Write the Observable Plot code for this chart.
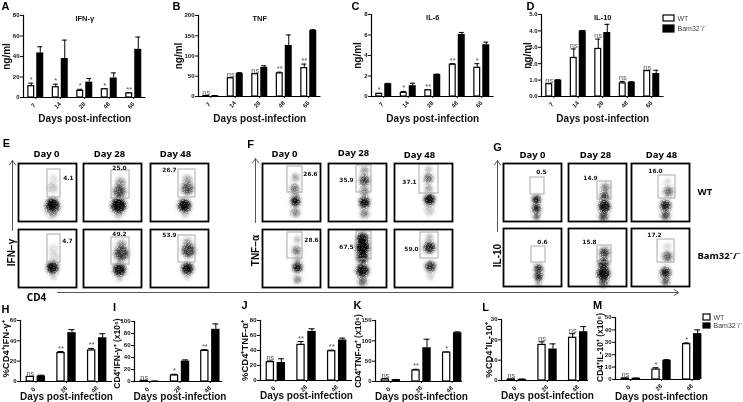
<!DOCTYPE html>
<html><head><meta charset="utf-8">
<script src="https://cdn.jsdelivr.net/npm/d3@7"></script>
<script src="https://cdn.jsdelivr.net/npm/@observablehq/plot@0.6"></script>
<style>
html,body{margin:0;padding:0;background:#fff}
#fig{position:relative;width:743px;height:402px;overflow:hidden;filter:blur(.3px)}
#fig svg{position:absolute;background:transparent;max-width:none;overflow:visible}
</style></head>
<body>
<svg width="0" height="0" style="position:absolute"><defs>
<filter id="speckle" x="-60%" y="-60%" width="220%" height="220%" color-interpolation-filters="sRGB">
<feGaussianBlur in="SourceGraphic" stdDeviation="2" result="soft"/>
<feTurbulence type="fractalNoise" baseFrequency="1.1" numOctaves="2" seed="4" result="noise"/>
<feColorMatrix in="noise" type="matrix" values="0 0 0 0 0 0 0 0 0 0 0 0 0 0 0 0 0 0 4 -1.1" result="mask"/>
<feComposite in="soft" in2="mask" operator="in"/>
</filter></defs></svg>
<div id="fig"></div>
<script>
const groupsLong = [7, 14, 28, 48, 66];
const groupsShort = [0, 28, 48];

// --- Top row (ng/ml) ---
const ifnWT = [11, 10, 6.5, 8, 4],        ifnWThi = [14, 13, 8, 8.6, 4.6];
const ifnKO = [43.5, 38, 15, 19, 47],     ifnKOhi = [49.5, 56, 18.5, 24, 59];
const ifnSig = ["*", "*", "*", "*", "**"];
const tnfWT = [1, 45, 55, 57, 70],        tnfWThi = [1.5, 46.5, 56, 60, 80];
const tnfKO = [2, 57, 72, 126, 163],      tnfKOhi = [2.5, 59, 76, 152, 165];
const tnfSig = ["ns", "ns", "ns", "**", "**"];
const il6WT = [0.26, 0.36, 0.6, 3.1, 2.8],  il6WThi = [0.3, 0.5, 0.65, 3.2, 3.2];
const il6KO = [1.24, 1.05, 2.15, 6.05, 5.05], il6KOhi = [1.28, 1.3, 2.18, 6.25, 5.3];
const il6Sig = ["*", "*", "**", "**", "*"];
const il10WT = [0.75, 2.35, 2.9, 0.8, 1.55], il10WThi = [0.76, 2.9, 3.5, 0.92, 1.58];
const il10KO = [1.0, 4.0, 3.9, 0.87, 1.4],   il10KOhi = [1.02, 4.02, 4.4, 0.9, 1.6];
const il10Sig = ["ns", "ns", "ns", "ns", "ns"];

// --- Bottom row ---
const pIfnWT = [4.5, 28, 30.5],  pIfnWThi = [4.9, 29.5, 32.5];
const pIfnKO = [5.5, 48, 43],    pIfnKOhi = [6.2, 51, 47];
const nIfnWT = [1, 10, 51],      nIfnWThi = [1.2, 12, 53];
const nIfnKO = [0.5, 34, 87],    nIfnKOhi = [0.7, 36, 96];
const pTnfWT = [24.5, 47.5, 39], pTnfWThi = [26, 52, 40.5];
const pTnfKO = [24, 65.5, 54],   pTnfKOhi = [29, 69, 56.5];
const nTnfWT = [5, 27, 71],      nTnfWThi = [7, 30, 72.5];
const nTnfKO = [4.5, 83, 120],   nTnfKOhi = [5, 104, 122];
const pIlWT = [0.5, 17.5, 21],   pIlWThi = [0.6, 19, 23];
const pIlKO = [0.6, 15.5, 24],   pIlKOhi = [0.7, 18, 26.5];
const nIlWT = [0.8, 8, 28.5],    nIlWThi = [1, 9.5, 29.5];
const nIlKO = [1, 15.5, 37],     nIlKOhi = [1.2, 16, 40];

// --- Flow cytometry: gates [panel, x1, x2, y1, y2], in the frame's own 58-unit scale ---
const flowPanels = [
  ["E00",18,163],["E01",83,163],["E02",150,163],["E10",18,229],["E11",83,229],["E12",150,229],
  ["F00",262,163],["F01",328,163],["F02",394,163],["F10",262,229],["F11",328,229],["F12",394,229],
  ["G00",503,163],["G01",568,163],["G02",631,163],["G10",503,228],["G11",568,228],["G12",631,228]
];
const flowGates = {
  E00:[29,42,6,34],E01:[28,46,7,35],E02:[28,45,6,34],E10:[29,42,5,33],E11:[28,46,8,35],E12:[28,45,6,33],
  F00:[25,40,3,29],F01:[28,43,2,29],F02:[25,44,1,30],F10:[25,40,3,29],F11:[28,43,2,30],F12:[26,44,3,29],
  G00:[27,41,14,31],G01:[29,43,18,36],G02:[27,44,12,35],G10:[28,42,18,34],G11:[29,43,17,34],G12:[26,43,11,34]
};
const flowLabels = {
  E00:["4.1",50,15],E01:["25.0",36,5],E02:["26.7",19,7],E10:["4.7",49,12],E11:["49.2",36,5],E12:["53.9",19,6],
  F00:["26.6",48,11],F01:["35.9",18,17],F02:["37.1",15,19],F10:["28.6",49,11],F11:["67.5",18,18],F12:["59.0",17,20],
  G00:["0.5",38,9],G01:["14.9",22,15],G02:["16.0",24,8],G10:["0.6",39,14],G11:["15.8",21,14],G12:["17.2",23,7]
};
// clouds: x, y, radius, density
const flowClouds = {
  E00:[[34,41,5.5,.98],[34,44,7,.3],[34,24,5,.14],[35,15,4,.08],[34,51,4,.15]],
  E01:[[35,42,6.5,.98],[36,28,5.5,.55],[37,19,4.5,.3],[35,51,4,.15]],
  E02:[[34,42,5.5,.95],[37,25,5.5,.5],[37,16,4,.25],[35,50,3.5,.15]],
  E10:[[34,38,5,.98],[35,20,5,.08],[36,28,5,.08],[35,47,3,.15]],
  E11:[[36,40,5.5,.9],[38,24,6.5,.6],[38,15,4,.3],[36,49,3,.15]],
  E12:[[37,39,5,.95],[38,21,6,.6],[37,12,3.5,.25],[37,47,3,.15]],
  F00:[[33,38,4,.9],[32,25,4,.4],[33,14,3.5,.25],[33,49,4,.35],[33,31,3,.25]],
  F01:[[36,39,4.5,.95],[36,17,4.5,.6],[36,7,3.5,.3],[36,28,4,.35],[36,50,4,.35]],
  F02:[[35,36,4.5,.98],[34,15,4,.45],[34,6,3,.2],[34,25,3.5,.25],[35,47,4.5,.15]],
  F10:[[35,38,4,.9],[34,21,4,.4],[35,10,3,.2],[35,30,3,.25],[35,50,3.5,.35]],
  F11:[[34,18,6,1],[34,9,5,.9],[34,28,5,.8],[34,41,5.5,.9],[34,52,4,.45]],
  F12:[[35,18,5,.75],[35,8,3,.25],[36,37,4.5,.7],[36,47,3,.15]],
  G00:[[33,36,3.5,.85],[33,45,3.5,.85],[33,53,3,.5]],
  G01:[[36,43,5,.95],[36,33,4,.6],[37,24,4,.35],[35,53,4,.6]],
  G02:[[34,42,4.5,.8],[34,52,4,.55],[37,28,4.5,.4],[36,18,3,.12]],
  G10:[[35,40,3.5,.75],[35,48,3.5,.8],[35,55,2.5,.3]],
  G11:[[35,45,5.5,.98],[35,35,4.5,.75],[36,24,4.5,.6],[35,54,4,.5]],
  G12:[[34,44,4.5,.8],[34,53,3.5,.5],[36,28,4.5,.45],[36,18,3,.12]]
};

// --- Figure annotations (figure-level positions) ---
const panelLetters = [["A",5,6],["B",176,6],["C",355,6],["D",530,6],["E",6,143],["F",250,144],["G",497,147],
  ["H",5,309],["I",114,307],["J",244,305],["K",357,305],["L",485,307],["M",597,305]];
const dayHeaders = [["Day 0",46,153],["Day 28",109,153],["Day 48",175,153],["Day 0",284,153],["Day 28",353,152],["Day 48",419,154],
  ["Day 0",532,154],["Day 28",595,154],["Day 48",661,154]];
const sideLabels = [["WT",697,191],["Bam32\u207B/\u207B",697,255]];
const rotatedLabels = [["IFN\u2212\u03B3",11,252],["TNF\u2212\u03B1",255,250],["IL-10",497,255]];
const cd4Label = [["CD4",36,297]];
const arrows = [[12,230,12,160],[255,222,255,158],[497,231,497,160],[57,292,678,292]];
const legends = [[663,674,15,21,25,32],[703,710,314,320,323,328]];
const legendLabelX = [677, 713];

const font = "'Liberation Sans', Arial, sans-serif";
const figEl = document.getElementById("fig");

function place(svg, left, top){ svg.style.left = left + "px"; svg.style.top = top + "px"; figEl.appendChild(svg); }

function barPanel(c){
  const rows = c.groups.map((g,i)=>({g, wt:c.wt[i], wtHi:c.wtHi[i], ko:c.ko[i], koHi:c.koHi[i], sig:c.sig[i]}));
  const ml = 24, mr = 2, mt = 16, mb = 24;
  const step = (c.right - c.left)/c.groups.length, h = step/2;
  const w = c.barW, gap = c.gap, off = (w+gap)/2, cap = c.cap;
  const capI = h - cap/2;
  const capOpts = (y, dx)=>({x:"g", y, dx, insetLeft:capI, insetRight:capI, stroke:"#000", strokeWidth:1});
  const marks = [
    Plot.ruleX(rows,{x:"g",y1:"wt",y2:"wtHi",dx:-off,stroke:"#000",strokeWidth:1}),
    Plot.ruleX(rows,{x:"g",y1:"ko",y2:"koHi",dx:off,stroke:"#000",strokeWidth:1}),
    Plot.tickY(rows,capOpts("wtHi",-off)),
    Plot.tickY(rows,capOpts("koHi",off)),
    Plot.barY(rows,{x:"g",y:"wt",insetLeft:h-gap/2-w+.6,insetRight:h+gap/2+.6,fill:"#fff",stroke:"#000",strokeWidth:1.2}),
    Plot.barY(rows,{x:"g",y:"ko",insetLeft:h+gap/2,insetRight:h-gap/2-w,fill:"#000"}),
    Plot.ruleY([0],{insetRight:c.inset||0,stroke:"#000",strokeWidth:1}),
    Plot.frame({anchor:"left",stroke:"#000",strokeWidth:1.2}),
    Plot.axisY({ticks:c.yTicks,tickSize:3,tickPadding:1,label:null,fontSize:6,fontWeight:"bold"}),
    Plot.axisX({tickSize:2,label:null,tickFormat:()=>""}),
    Plot.text(rows,{x:"g",frameAnchor:"bottom",text:d=>String(d.g),rotate:-45,dx:-2.5,dy:8,textAnchor:"middle",lineAnchor:"middle",fontSize:6,fontWeight:"bold"}),
    Plot.text(rows,{x:"g",y:"wtHi",text:"sig",dx:-off,dy:-1,lineAnchor:"bottom",fontSize:7.5,fill:"#555"}),
    Plot.text([c.xLabel],{frameAnchor:"bottom",text:d=>d,dx:c.xdx||0,dy:c.xdy,lineAnchor:"middle",fontSize:10,fontWeight:"bold"}),
    Plot.text([c.yLabel],{frameAnchor:"left",text:d=>d,rotate:-90,textAnchor:"middle",dx:c.ydx,dy:c.ydy||0,lineAnchor:"middle",fontSize:c.yFont||10,fontWeight:"bold"})
  ];
  if (c.title) marks.push(Plot.text([c.title],{frameAnchor:"top",text:d=>d,dy:3.5,dx:c.tdx||0,lineAnchor:"middle",fontSize:7.5,fontWeight:"bold"}));
  const svg = Plot.plot({
    width:c.right-c.left+ml+mr, height:c.bottom-c.top+mt+mb,
    marginLeft:ml, marginRight:mr, marginTop:mt, marginBottom:mb,
    style:{fontFamily:font,background:"transparent",color:"#111"},
    x:{type:"band",domain:c.groups,padding:0,round:false,axis:null},
    y:{domain:c.yDomain,axis:null},
    marks
  });
  place(svg, c.left-ml, c.top-mt);
}

const xl = "Days post-infection";
const topCfg = {groups:groupsLong,barW:7,gap:2,cap:5,xLabel:xl,yLabel:"ng/ml",xdy:21};
barPanel({...topCfg,left:23,right:145.5,top:15,bottom:97,yDomain:[0,80],yTicks:[0,20,40,60,80],wt:ifnWT,wtHi:ifnWThi,ko:ifnKO,koHi:ifnKOhi,sig:ifnSig,title:"IFN-\u03B3",ydx:-17,tdx:0});
barPanel({...topCfg,left:198.2,right:320.7,top:15,bottom:96,yDomain:[0,200],yTicks:[0,50,100,150,200],wt:tnfWT,wtHi:tnfWThi,ko:tnfKO,koHi:tnfKOhi,sig:tnfSig,title:"TNF",ydx:-20,xdy:22});
barPanel({...topCfg,left:371,right:493.5,top:14,bottom:96,yDomain:[0,8],yTicks:[0,2,4,6,8],wt:il6WT,wtHi:il6WThi,ko:il6KO,koHi:il6KOhi,sig:il6Sig,title:"IL-6",ydx:-14,xdy:22});
barPanel({...topCfg,left:541,right:663.5,top:14,bottom:96,yDomain:[0,5],yTicks:[0,1,2,3,4,5],wt:il10WT,wtHi:il10WThi,ko:il10KO,koHi:il10KOhi,sig:il10Sig,title:"IL-10",ydx:-14,xdy:22});

const botCfg = {groups:groupsShort,barW:8.4,gap:2.6,cap:6,xLabel:xl,xdy:15,yFont:8.5};
const pctFont = 9.5;
barPanel({...botCfg,yFont:pctFont,left:20,right:112,top:320,bottom:381,yDomain:[0,60],yTicks:[0,20,40,60],wt:pIfnWT,wtHi:pIfnWThi,ko:pIfnKO,koHi:pIfnKOhi,sig:["ns","**","**"],yLabel:"%CD4\u207AIFN-\u03B3\u207A",ydx:-15,ydy:-2});
barPanel({...botCfg,left:134,right:225,top:321,bottom:381,yDomain:[0,100],yTicks:[0,20,40,60,80,100],wt:nIfnWT,wtHi:nIfnWThi,ko:nIfnKO,koHi:nIfnKOhi,sig:["ns","*","**"],yLabel:"CD4\u207AIFN-\u03B3\u207A (x10\u2076)",ydx:-17,ydy:2,inset:3});
barPanel({...botCfg,yFont:pctFont,left:260,right:352,top:320,bottom:380,yDomain:[0,80],yTicks:[0,20,40,60,80],wt:pTnfWT,wtHi:pTnfWThi,ko:pTnfKO,koHi:pTnfKOhi,sig:["ns","**","**"],yLabel:"%CD4\u207ATNF-\u03B1\u207A",ydx:-16,ydy:0});
barPanel({...botCfg,left:375,right:467,top:320,bottom:381,yDomain:[0,150],yTicks:[0,50,100,150],wt:nTnfWT,wtHi:nTnfWThi,ko:nTnfKO,koHi:nTnfKOhi,sig:["ns","**","*"],yLabel:"CD4\u207ATNF-\u03B1\u207A (x10\u2076)",ydx:-17,ydy:0,inset:5});
barPanel({...botCfg,yFont:pctFont,left:501,right:593,top:319,bottom:380,yDomain:[0,30],yTicks:[0,10,20,30],wt:pIlWT,wtHi:pIlWThi,ko:pIlKO,koHi:pIlKOhi,sig:["ns","ns","ns"],yLabel:"%CD4\u207AIL-10\u207A",ydx:-13,ydy:0,inset:5});
barPanel({...botCfg,left:615,right:707,top:317,bottom:379,yDomain:[0,50],yTicks:[0,10,20,30,40,50],wt:nIlWT,wtHi:nIlWThi,ko:nIlKO,koHi:nIlKOhi,sig:["ns","*","*"],yLabel:"CD4\u207AIL-10\u207A (x10\u2076)",ydx:-15,ydy:-1,inset:7,xdy:17});

// Flow plots
for (const [key,x0,y0] of flowPanels){
  const [gx1,gx2,gy1,gy2] = flowGates[key];
  const [lab,lx,ly] = flowLabels[key];
  const clouds = flowClouds[key].map(([x,y,r,o])=>({x,y,r,o}));
  const svg = Plot.plot({
    width:60,height:60,margin:1,
    style:{fontFamily:"'DejaVu Sans',sans-serif",background:"transparent"},
    x:{domain:[0,58],axis:null},
    y:{domain:[0,58],reverse:true,axis:null},
    r:{type:"identity"},
    opacity:{type:"identity"},
    marks:[
      Plot.dot(clouds,{x:"x",y:"y",r:"r",fill:"#000",fillOpacity:d=>d.o*.8,imageFilter:"blur(1.5px)"}),
      Plot.dot(clouds,{x:"x",y:"y",r:d=>d.r*1.15,fill:"#000",fillOpacity:"o",imageFilter:"url(#speckle)"}),
      Plot.rect([0],{x1:()=>gx1,x2:()=>gx2,y1:()=>gy1,y2:()=>gy2,fill:"none",stroke:"#aaa",strokeWidth:1}),
      Plot.text([lab],{x:()=>lx,y:()=>ly,text:d=>d,fontSize:5.8,fontWeight:"bold",fill:"#111"}),
      Plot.frame({stroke:"#000",strokeWidth:1.8})
    ]
  });
  place(svg, x0-1, y0-1);
}

// Figure-level annotations
const arrowRows = arrows.map(([x1,y1,x2,y2])=>({x1,y1,x2,y2}));
const legendRows = legends.flatMap(([a,b,w1,w2,k1,k2])=>[{a,b,c:w1,d:w2,f:"#fff"},{a,b,c:k1,d:k2,f:"#000"}]);
const legendTexts = legends.flatMap(([a,b,w1,w2,k1,k2],i)=>[
  {x:legendLabelX[i],y:(w1+w2)/2,t:"WT"},{x:legendLabelX[i],y:(k1+k2)/2,t:"Bam32\u207B/\u207B"}]);
const T = a=>a.map(([t,x,y])=>({t,x,y}));
place(Plot.plot({
  width:743,height:402,margin:0,
  style:{fontFamily:font,background:"transparent",color:"#111"},
  x:{domain:[0,743],axis:null},
  y:{domain:[0,402],reverse:true,axis:null},
  marks:[
    Plot.arrow(arrowRows,{x1:"x1",y1:"y1",x2:"x2",y2:"y2",stroke:"#555",strokeWidth:1,headLength:8,headAngle:70,bend:false}),
    Plot.text(T(panelLetters),{x:"x",y:"y",text:"t",fontSize:11,fontWeight:"bold",fill:"#000"}),
    Plot.text(T(dayHeaders),{x:"x",y:"y",text:"t",fontSize:9.5,fontWeight:"bold",fontFamily:"'Noto Sans',sans-serif",fill:"#000"}),
    Plot.text(T(sideLabels),{x:"x",y:"y",text:"t",textAnchor:"start",fontSize:9.5,fontWeight:"bold",fontFamily:"'Noto Sans',sans-serif",fill:"#000"}),
    Plot.text(T(rotatedLabels),{x:"x",y:"y",text:"t",rotate:-90,fontSize:10,fontWeight:"bold",fill:"#000"}),
    Plot.text(T(cd4Label),{x:"x",y:"y",text:"t",fontSize:10,fontWeight:"bold",fontFamily:"'Noto Sans',sans-serif",fill:"#000"}),
    Plot.rect(legendRows,{x1:"a",x2:"b",y1:"c",y2:"d",fill:"f",stroke:"#000",strokeWidth:1.2}),
    Plot.text(legendTexts,{x:"x",y:"y",text:"t",textAnchor:"start",fontSize:7,fill:"#444"})
  ]
}),0,0);
</script>
</body></html>
